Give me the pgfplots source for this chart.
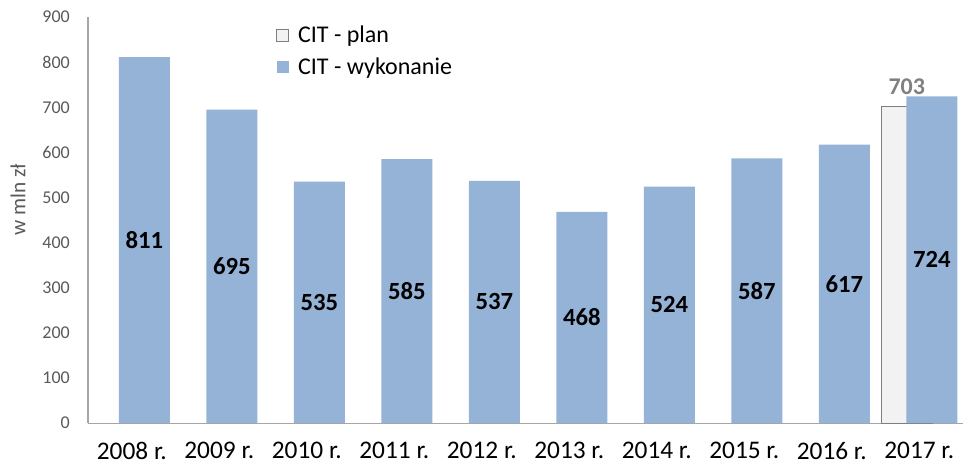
\documentclass[border=0pt]{standalone}
\usepackage{pgfplots}
\pgfplotsset{compat=1.18}
\usepackage{fontspec}
\setmainfont{Carlito}
\definecolor{cblue}{HTML}{95B3D7}
\definecolor{cplan}{HTML}{F2F2F2}
\definecolor{cplanedge}{HTML}{7F7F7F}
\definecolor{caxis}{HTML}{A6A6A6}
\definecolor{ctick}{HTML}{595959}
\definecolor{clab}{HTML}{808080}
\begin{document}
\begin{tikzpicture}
\useasboundingbox (-66pt,-33.75pt) rectangle (656pt,317.25pt);
\begin{axis}[
    at={(0,0)}, anchor=south west,
    scale only axis,
    width=656pt, height=304.5pt,
    xmin=-0.5, xmax=9.5,
    ymin=0, ymax=900,
    ytick={0,100,...,900},
    xtick={0,...,9},
    xticklabels={2008 r.,2009 r.,2010 r.,2011 r.,2012 r.,2013 r.,2014 r.,2015 r.,2016 r.,2017 r.},
    axis x line*=bottom,
    axis y line*=left,
    axis line style={draw=caxis, line width=0.9pt},
    tick style={draw=none},
    /pgf/number format/assume math mode=true,
    yticklabel style={font=\fontsize{13.5}{15}\selectfont, text=ctick, anchor=east, inner sep=0pt, xshift=-13.5pt},
    xticklabel style={font=\fontsize{19}{21}\selectfont, anchor=north, inner sep=0pt, yshift=-14pt},
    ylabel={w mln zł},
    ylabel style={at={(axis description cs:-0.08,0.55)}, anchor=center,
        font=\fontsize{16}{18}\selectfont, text=ctick},
    legend style={draw=none, fill=none, at={(0.215,1.0)}, anchor=north west, yshift=-4.5pt,
        font=\fontsize{18}{20}\selectfont, row sep=6pt, inner sep=0pt},
    legend cell align=left,
    clip=false,
]
\addplot[ybar, bar width=0.583, bar shift=-0.143, fill=cplan, draw=cplanedge, line width=0.6pt,
    nodes near coords,
    every node near coord/.append style={font=\bfseries\fontsize{18}{20}\selectfont, text=clab,
        anchor=south, inner sep=0pt, shift={(axis direction cs:-0.143,0)}, yshift=8.5pt},
    legend image code/.code={\draw[fill=cplan, draw=cplanedge, line width=0.5pt] (0pt,-4.5pt) rectangle (9pt,4.5pt); \path[draw=none, fill=none] (14pt,0pt) rectangle (14pt,0pt);}]
    coordinates {(9,703)};
\addlegendentry{CIT - plan}
\addplot[ybar, bar width=0.583, bar shift=0.143, fill=cblue, draw=none,
    visualization depends on={y \as \rawy},
    nodes near coords,
    every node near coord/.append style={font=\bfseries\fontsize{18.5}{20}\selectfont, text=black,
        anchor=center, shift={(axis direction cs:0.143,-\rawy/2)}},
    legend image code/.code={\fill[cblue] (0pt,-4.5pt) rectangle (9pt,4.5pt); \path[draw=none, fill=none] (14pt,0pt) rectangle (14pt,0pt);}]
    coordinates {(0,811) (1,695) (2,535) (3,585) (4,537) (5,468) (6,524) (7,587) (8,617) (9,724)};
\addlegendentry{CIT - wykonanie}
\end{axis}
\end{tikzpicture}
\end{document}
